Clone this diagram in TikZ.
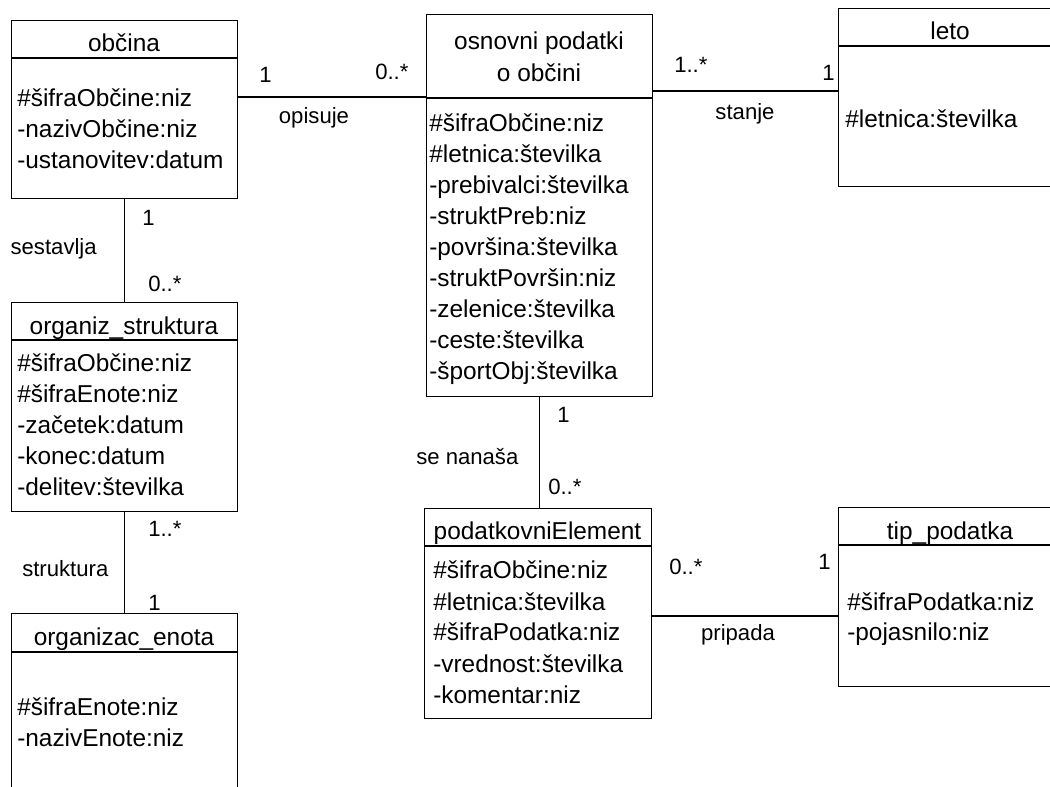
\documentclass[tikz,border=0pt]{standalone}
\usepackage{fontspec}
\setmainfont{Liberation Sans}
\begin{document}
\begin{tikzpicture}[x=0.75pt,y=-0.75pt,
  classbox/.style={draw=black, line width=1pt, inner sep=0pt, anchor=north west},
  ctitle/.style={inner sep=0pt, anchor=base, font=\fontsize{18.3}{22}\selectfont},
  attr/.style={inner sep=0pt, anchor=base west, font=\fontsize{18.3}{22}\selectfont},
  mult/.style={inner sep=0pt, anchor=base west, font=\fontsize{16.6}{20}\selectfont},
  assoc/.style={inner sep=0pt, anchor=base, font=\fontsize{16.6}{20}\selectfont},
  link/.style={draw=black, line width=1pt}]
\useasboundingbox (0,0) rectangle (1050,787);
\clip (0,0) rectangle (1050,787);

% attribute rows of a class: name, x, first baseline, list
\newcommand\attrlist[4]{%
  \foreach \t [count=\i from 0] in {#4}
    \node[attr] (#1-a\i) at (#2,{#3+31*\i}) {\t};}

% ---- classes ----
\node[classbox, minimum width=226*0.75pt, minimum height=178*0.75pt] (obcina) at (11,20) {};
\draw[link] (obcina.west |- 0,58) -- (obcina.east |- 0,58);
\node[ctitle] (obcina-t) at (124,52) {občina};
\attrlist{obcina}{17}{107}{\#šifraObčine:niz,-nazivObčine:niz,-ustanovitev:datum}

\node[classbox, minimum width=226*0.75pt, minimum height=382*0.75pt] (osnovni) at (426,14) {};
\draw[link] (osnovni.west |- 0,98) -- (osnovni.east |- 0,98);
\node[ctitle] (osnovni-t1) at (539,50) {osnovni podatki};
\node[ctitle] (osnovni-t2) at (539,82) {o občini};
\attrlist{osnovni}{429}{132}{\#šifraObčine:niz,\#letnica:številka,-prebivalci:številka,-struktPreb:niz,-površina:številka,-struktPovršin:niz,-zelenice:številka,-ceste:številka,-športObj:številka}

\node[classbox, minimum width=226*0.75pt, minimum height=178*0.75pt] (leto) at (838,8) {};
\draw[link] (leto.west |- 0,46) -- (leto.east |- 0,46);
\node[ctitle] (leto-t) at (950,40) {leto};
\attrlist{leto}{845}{128}{\#letnica:številka}

\node[classbox, minimum width=226*0.75pt, minimum height=209*0.75pt] (organiz) at (11,302) {};
\draw[link] (organiz.west |- 0,340) -- (organiz.east |- 0,340);
\node[ctitle] (organiz-t) at (124,335) {organiz\_struktura};
\attrlist{organiz}{17}{372}{\#šifraObčine:niz,\#šifraEnote:niz,-začetek:datum,-konec:datum,-delitev:številka}

\node[classbox, minimum width=226*0.75pt, minimum height=200*0.75pt] (enota) at (11,613) {};
\draw[link] (enota.west |- 0,652) -- (enota.east |- 0,652);
\node[ctitle] (enota-t) at (124,645) {organizac\_enota};
\attrlist{enota}{17}{715}{\#šifraEnote:niz,-nazivEnote:niz}

\node[classbox, minimum width=227*0.75pt, minimum height=210*0.75pt] (element) at (424,508) {};
\draw[link] (element.west |- 0,546) -- (element.east |- 0,546);
\node[ctitle] (element-t) at (537.5,540) {podatkovniElement};
\attrlist{element}{433}{579}{\#šifraObčine:niz,\#letnica:številka,\#šifraPodatka:niz,-vrednost:številka,-komentar:niz}

\node[classbox, minimum width=224*0.75pt, minimum height=179*0.75pt] (tip) at (838,507) {};
\draw[link] (tip.west |- 0,545) -- (tip.east |- 0,545);
\node[ctitle] (tip-t) at (950,540) {tip\_podatka};
\attrlist{tip}{847}{610}{\#šifraPodatka:niz,-pojasnilo:niz}

% ---- associations ----
\draw[link] (obcina.east |- 0,97) -- (osnovni.west |- 0,97);
\node[mult] (m1) at (259,83) {1};
\node[mult] (m2) at (375,80) {0..*};
\node[assoc] (opisuje) at (314,124) {opisuje};

\draw[link] (osnovni.east |- 0,91) -- (leto.west |- 0,91);
\node[mult] (m3) at (674,73) {1..*};
\node[mult] (m4) at (822,81) {1};
\node[assoc] (stanje) at (745,120) {stanje};

\draw[link] (obcina.south) -- (organiz.north);
\node[mult] (m5) at (142,226) {1};
\node[mult] (m6) at (148,292) {0..*};
\node[assoc, anchor=base east] (sestavlja) at (97,255) {sestavlja};

\draw[link] (organiz.south) -- (enota.north);
\node[mult] (m7) at (148,537) {1..*};
\node[mult] (m8) at (148,610) {1};
\node[assoc, anchor=base west] (struktura) at (22,577) {struktura};

\draw[link] (osnovni.south) -- (osnovni.south |- element.north);
\node[mult] (m9) at (557,423) {1};
\node[mult] (m10) at (548,495) {0..*};
\node[assoc, anchor=base west] (nanasa) at (416,465) {se nanaša};

\draw[link] (element.east |- 0,616) -- (tip.west |- 0,616);
\node[mult] (m11) at (669,575) {0..*};
\node[mult] (m12) at (818,570) {1};
\node[assoc] (pripada) at (738,641) {pripada};
\end{tikzpicture}
\end{document}
